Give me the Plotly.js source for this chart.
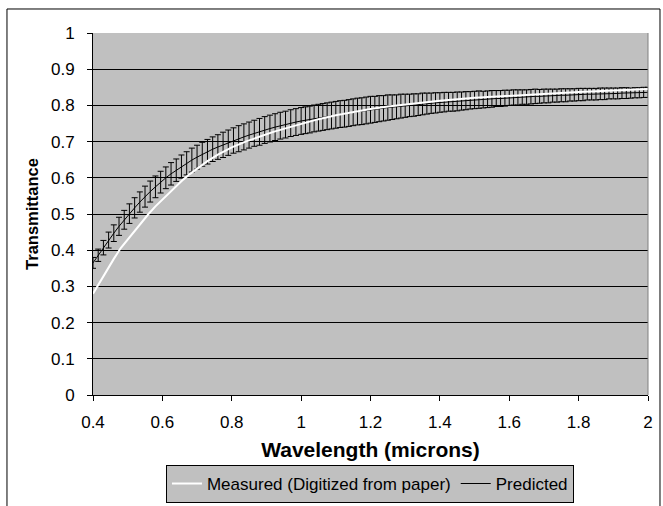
<!DOCTYPE html>
<html>
<head>
<meta charset="utf-8">
<script src="https://cdn.plot.ly/plotly-3.0.1.min.js"></script>
<style>html,body{margin:0;padding:0;background:#fff;}#chart{width:663px;height:506px;}</style>
</head>
<body>
<div id="chart"></div>
<script>
// Predicted transmittance (with error bars)
const predWavelength = [
0.400,0.415,0.430,0.445,0.460,0.475,0.490,0.505,0.520,0.535,0.550,0.565,0.580,0.595,0.610,0.625,0.640,0.655,0.670,0.685,
0.700,0.715,0.730,0.745,0.760,0.775,0.790,0.805,0.820,0.835,0.850,0.865,0.880,0.895,0.910,0.925,0.940,0.955,0.970,0.985,1.000,
1.0125,1.0250,1.0375,1.0500,1.0625,1.0750,1.0875,1.1000,
1.1125,1.1250,1.1375,1.1500,1.1625,1.1750,1.1875,1.2000,
1.2125,1.2250,1.2375,1.2500,1.2625,1.2750,1.2875,1.3000,
1.3125,1.3250,1.3375,1.3500,1.3625,1.3750,1.3875,1.4000,
1.4125,1.4250,1.4375,1.4500,1.4625,1.4750,1.4875,1.5000,
1.5125,1.5250,1.5375,1.5500,1.5625,1.5750,1.5875,1.6000,
1.6125,1.6250,1.6375,1.6500,1.6625,1.6750,1.6875,1.7000,
1.7125,1.7250,1.7375,1.7500,1.7625,1.7750,1.7875,1.8000,
1.8125,1.8250,1.8375,1.8500,1.8625,1.8750,1.8875,1.9000,
1.9125,1.9250,1.9375,1.9500,1.9625,1.9750,1.9875,2.0000];
const predTransmittance = [
0.365,0.386,0.407,0.428,0.447,0.466,0.484,0.501,0.517,0.533,0.548,0.562,0.575,0.588,0.600,0.611,0.621,0.631,0.640,0.649,
0.657,0.665,0.672,0.679,0.685,0.691,0.697,0.703,0.708,0.713,0.718,0.723,0.727,0.732,0.736,0.740,0.744,0.747,0.751,0.754,0.757,
0.759,0.761,0.764,0.766,0.768,0.770,0.772,0.774,
0.776,0.777,0.779,0.781,0.783,0.784,0.786,0.788,
0.789,0.791,0.792,0.794,0.795,0.796,0.798,0.799,
0.800,0.801,0.802,0.804,0.805,0.806,0.807,0.808,
0.809,0.810,0.810,0.811,0.812,0.813,0.814,0.815,
0.816,0.816,0.817,0.818,0.819,0.819,0.820,0.821,
0.822,0.822,0.823,0.823,0.824,0.825,0.825,0.826,
0.826,0.827,0.827,0.828,0.828,0.829,0.829,0.830,
0.830,0.831,0.831,0.831,0.832,0.832,0.833,0.833,
0.833,0.834,0.834,0.834,0.835,0.835,0.836,0.836];
const predError = [
0.015,0.017,0.020,0.022,0.023,0.025,0.026,0.027,0.028,0.028,0.029,0.029,0.030,0.030,0.030,0.031,0.031,0.032,0.032,0.033,
0.033,0.033,0.034,0.034,0.034,0.035,0.035,0.035,0.036,0.036,0.036,0.036,0.037,0.037,0.037,0.037,0.037,0.037,0.037,0.037,0.037,
0.037,0.037,0.037,0.037,0.037,0.037,0.037,0.037,
0.037,0.037,0.037,0.037,0.037,0.037,0.037,0.037,
0.036,0.036,0.035,0.035,0.034,0.033,0.033,0.032,
0.031,0.031,0.030,0.030,0.029,0.028,0.028,0.027,
0.027,0.026,0.026,0.026,0.025,0.025,0.024,0.024,
0.024,0.023,0.023,0.023,0.022,0.022,0.022,0.021,
0.021,0.021,0.020,0.020,0.020,0.020,0.019,0.019,
0.019,0.018,0.018,0.018,0.018,0.017,0.017,0.017,
0.017,0.016,0.016,0.016,0.016,0.016,0.015,0.015,
0.015,0.015,0.015,0.014,0.014,0.014,0.014,0.014];

const measWavelength = [0.40,0.42,0.44,0.46,0.48,0.50,0.52,0.54,0.56,0.58,0.60,0.62,0.64,0.66,0.68,0.70,0.73,0.76,0.80,0.84,0.88,0.92,0.96,1.00,1.05,1.10,1.15,1.20,1.25,1.30,1.40,1.50,1.60,1.70,1.80,1.90,2.00];
const measTransmittance = [0.280,0.313,0.345,0.376,0.406,0.430,0.454,0.477,0.500,0.521,0.540,0.559,0.577,0.595,0.611,0.626,0.646,0.664,0.684,0.700,0.714,0.727,0.738,0.749,0.762,0.773,0.782,0.790,0.797,0.803,0.813,0.821,0.827,0.832,0.837,0.841,0.845];

const seriesNames = ['Measured (Digitized from paper)', 'Predicted'];
const xTitle = 'Wavelength (microns)';
const yTitle = 'Transmittance';

const FONT = 'Liberation Sans, Arial, sans-serif';

const traces = [
  {
    x: predWavelength, y: predTransmittance, type: 'scatter', mode: 'lines',
    name: seriesNames[1], legendrank: 2,
    line: {color: '#000000', width: 1},
    error_y: {type: 'data', array: predError, visible: true, color: '#000000', thickness: 1, width: 3}
  },
  {
    x: measWavelength, y: measTransmittance, type: 'scatter', mode: 'lines',
    name: seriesNames[0], legendrank: 1,
    line: {color: '#FFFFFF', width: 2}
  }
];

const layout = {
  width: 663, height: 506,
  margin: {l: 93, r: 15, t: 33, b: 111, pad: 0, autoexpand: false},
  paper_bgcolor: '#FFFFFF',
  plot_bgcolor: '#C0C0C0',
  font: {family: FONT, size: 17, color: '#000000'},
  showlegend: true,
  legend: {
    orientation: 'h', xref: 'container', yref: 'container',
    x: 0.558, xanchor: 'center', y: 0.006, yanchor: 'bottom',
    bgcolor: '#C0C0C0', bordercolor: '#000000', borderwidth: 1,
    font: {family: FONT, size: 17, color: '#000000'},
    itemwidth: 30, tracegroupgap: 0
  },
  xaxis: {
    range: [0.4, 2], tick0: 0.4, dtick: 0.2, tickmode: 'linear',
    showgrid: false, zeroline: false, automargin: false,
    showline: true, linecolor: '#000000', linewidth: 1,
    ticks: 'outside', ticklen: 5, tickcolor: '#000000', tickwidth: 1,
    ticklabelstandoff: 7,
    tickfont: {family: FONT, size: 17, color: '#000000'},
    title: {text: xTitle, standoff: 10, font: {family: FONT, size: 21, color: '#000000', weight: 'bold'}}
  },
  yaxis: {
    range: [0, 1], tick0: 0, dtick: 0.1, tickmode: 'linear',
    showgrid: true, gridcolor: '#000000', gridwidth: 1, zeroline: false, automargin: false,
    showline: true, linecolor: '#000000', linewidth: 1,
    ticks: 'outside', ticklen: 5, tickcolor: '#000000', tickwidth: 1,
    ticklabelstandoff: 9,
    tickfont: {family: FONT, size: 17, color: '#000000'},
    title: {text: yTitle, standoff: 8, font: {family: FONT, size: 16.5, color: '#000000', weight: 'bold'}}
  },
  shapes: [
    {type: 'line', xref: 'paper', yref: 'paper', x0: 1, x1: 1, y0: 0, y1: 1, line: {color: '#808080', width: 1}},
    {type: 'rect', xref: 'paper', yref: 'paper', x0: -0.155, x1: 1.0216, y0: -0.33, y1: 1.0663, line: {color: '#000000', width: 1}, fillcolor: 'rgba(0,0,0,0)', layer: 'below'}
  ]
};

Plotly.newPlot('chart', traces, layout, {displayModeBar: false, staticPlot: true});
</script>
</body>
</html>
